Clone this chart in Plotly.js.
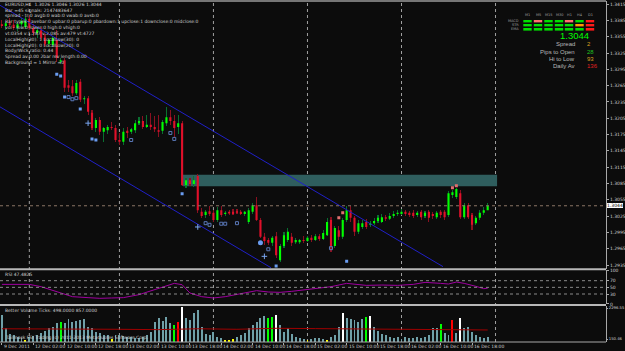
<!DOCTYPE html>
<html><head><meta charset="utf-8">
<script src="https://cdn.plot.ly/plotly-3.0.1.min.js"></script>
<style>html,body{margin:0;padding:0;background:#0c0c0c;overflow:hidden}#chart{width:625px;height:351px}</style>
</head><body><div id="chart"></div>
<script>
// ---------------- DATA ----------------
const opens = [1.3378,1.3375,1.3380,1.3377,1.3371,1.3378,1.3373,1.3388,1.3371,1.3362,1.3367,1.3353,1.3342,1.3340,1.3349,1.3309,1.3312,1.3266,1.3264,1.3251,1.3272,1.3240,1.3242,1.3215,1.3187,1.3202,1.3180,1.3183,1.3189,1.3187,1.3165,1.3162,1.3182,1.3180,1.3183,1.3196,1.3200,1.3189,1.3193,1.3189,1.3183,1.3182,1.3196,1.3207,1.3200,1.3189,1.3196,1.3082,1.3091,1.3084,1.3099,1.3033,1.3027,1.3034,1.3031,1.3018,1.3036,1.3029,1.3033,1.3033,1.3034,1.3033,1.3029,1.3014,1.3033,1.3045,1.3018,1.2987,1.2981,1.2976,1.2988,1.2944,1.2970,1.2981,1.2987,1.2977,1.2977,1.2981,1.2979,1.2985,1.2981,1.2988,1.2983,1.2990,1.3018,1.2970,1.2999,1.2987,1.3018,1.3036,1.3022,1.2996,1.3005,1.3014,1.3009,1.3012,1.3016,1.3014,1.3023,1.3020,1.3025,1.3029,1.3029,1.3033,1.3031,1.3031,1.3027,1.3033,1.3025,1.3033,1.3029,1.3023,1.3033,1.3033,1.3027,1.3064,1.3060,1.3067,1.3023,1.3045,1.3027,1.3012,1.3022,1.3031,1.3036];
const highs = [1.3386,1.3382,1.3389,1.3386,1.3382,1.3389,1.3391,1.3395,1.3378,1.3371,1.3373,1.3360,1.3353,1.3356,1.3367,1.3316,1.3316,1.3275,1.3275,1.3275,1.3277,1.3246,1.3246,1.3220,1.3206,1.3207,1.3189,1.3193,1.3198,1.3193,1.3178,1.3187,1.3189,1.3187,1.3202,1.3207,1.3209,1.3211,1.3215,1.3209,1.3211,1.3202,1.3226,1.3220,1.3211,1.3211,1.3200,1.3095,1.3095,1.3099,1.3103,1.3040,1.3036,1.3044,1.3036,1.3042,1.3044,1.3034,1.3036,1.3038,1.3038,1.3036,1.3034,1.3040,1.3049,1.3060,1.3022,1.2994,1.2985,1.2988,1.2996,1.2974,1.2996,1.3003,1.2994,1.2985,1.2983,1.2988,1.2988,1.2990,1.2992,1.2992,1.2999,1.3022,1.3023,1.3007,1.3007,1.3022,1.3044,1.3044,1.3025,1.3018,1.3018,1.3020,1.3016,1.3022,1.3027,1.3029,1.3027,1.3031,1.3034,1.3036,1.3038,1.3036,1.3034,1.3036,1.3034,1.3036,1.3034,1.3036,1.3033,1.3034,1.3036,1.3036,1.3071,1.3073,1.3077,1.3073,1.3049,1.3049,1.3031,1.3025,1.3036,1.3042,1.3049];
const lows = [1.3371,1.3367,1.3373,1.3367,1.3366,1.3373,1.3369,1.3367,1.3356,1.3353,1.3349,1.3338,1.3336,1.3336,1.3309,1.3305,1.3253,1.3253,1.3246,1.3248,1.3235,1.3231,1.3211,1.3183,1.3180,1.3174,1.3162,1.3176,1.3183,1.3162,1.3156,1.3156,1.3169,1.3176,1.3178,1.3193,1.3185,1.3187,1.3183,1.3180,1.3171,1.3176,1.3191,1.3193,1.3171,1.3176,1.3080,1.3077,1.3080,1.3078,1.3031,1.3022,1.3022,1.3025,1.3014,1.3014,1.3023,1.3025,1.3027,1.3027,1.3029,1.3027,1.3025,1.3011,1.3029,1.3016,1.2985,1.2972,1.2972,1.2970,1.2948,1.2941,1.2966,1.2977,1.2970,1.2974,1.2974,1.2976,1.2977,1.2977,1.2979,1.2979,1.2981,1.2988,1.2959,1.2966,1.2981,1.2983,1.3014,1.3014,1.2988,1.2992,1.3001,1.3001,1.3005,1.3009,1.3012,1.3012,1.3016,1.3018,1.3022,1.3025,1.3027,1.3025,1.3023,1.3022,1.3023,1.3018,1.3022,1.3014,1.3020,1.3020,1.3022,1.3018,1.3023,1.3058,1.3056,1.3020,1.3020,1.3020,1.2999,1.3009,1.3018,1.3027,1.3036];
const closes = [1.3375,1.3380,1.3377,1.3371,1.3378,1.3384,1.3388,1.3371,1.3362,1.3367,1.3353,1.3342,1.3349,1.3353,1.3316,1.3312,1.3261,1.3261,1.3251,1.3270,1.3239,1.3242,1.3217,1.3187,1.3202,1.3180,1.3187,1.3189,1.3187,1.3165,1.3162,1.3180,1.3178,1.3185,1.3196,1.3200,1.3189,1.3193,1.3189,1.3185,1.3180,1.3198,1.3207,1.3200,1.3187,1.3196,1.3082,1.3091,1.3084,1.3091,1.3036,1.3025,1.3033,1.3029,1.3018,1.3036,1.3027,1.3031,1.3030,1.3029,1.3031,1.3029,1.3033,1.3036,1.3045,1.3018,1.2987,1.2979,1.2976,1.2985,1.2953,1.2970,1.2990,1.2996,1.2976,1.2981,1.2981,1.2979,1.2985,1.2981,1.2988,1.2983,1.2994,1.3014,1.2970,1.3003,1.2987,1.3018,1.3036,1.3022,1.2996,1.3012,1.3012,1.3005,1.3012,1.3016,1.3022,1.3023,1.3020,1.3025,1.3029,1.3031,1.3033,1.3029,1.3027,1.3025,1.3031,1.3023,1.3031,1.3022,1.3025,1.3031,1.3027,1.3023,1.3067,1.3069,1.3075,1.3023,1.3045,1.3023,1.3009,1.3022,1.3031,1.3036,1.3044];
const volumes = [1750,950,650,550,450,390,290,450,510,590,710,790,950,1050,1250,1350,1250,1510,1350,1390,1450,1510,1050,950,750,710,590,550,310,550,590,510,450,430,390,390,450,550,750,1350,1550,1390,1650,1250,1150,1350,2190,1550,1450,1850,2050,1050,650,590,750,450,390,290,290,310,450,590,710,950,1150,1350,1550,1710,1550,1650,1750,1150,750,950,650,450,390,350,290,350,390,390,350,290,450,590,1050,1850,1590,1510,1450,1310,1510,1650,1710,1050,790,650,590,470,390,470,350,470,410,390,430,370,450,590,950,990,1190,710,590,1450,710,1550,950,1050,750,590,470,390,430];
const volYellow = [6,28,57,58,59,78,83];
const volGreen = [15,44,68,69,93,112];
const volWhite = [46,70,87,94,117];
const volRed = [45,115];
const volMaIdx = [0,10,20,30,40,50,60,70,80,90,100,110,118,124];
const volMaVal = [930,920,950,900,880,930,900,960,940,920,940,910,880,860];
const rsiIdx = [0,7,10,14,18,22,25,28,31,35,39,42,44,46,48,51,54,57,61,65,68,71,74,77,80,84,88,90,93,97,101,105,108,112,114,116,118,121,123,124];
const rsiVal = [59,59,52,36,22,19,17,18,19,28,44,55,62,58,33,22,18,22,30,40,36,35,38,42,46,52,62,60,56,57,56,59,65,62,60,66,62,53,46,47.5];
const rsiLevels = [70,50,30];
const rsiTicks = [100,70,50,30,0];
const volTickVals = [2149,327];
const volTickText = ['2296.55','150.46'];
const priceTicks = [1.2935,1.2965,1.2995,1.3025,1.3055,1.3085,1.3115,1.3145,1.3175,1.3205,1.3235,1.3265,1.3295,1.3325,1.3355,1.3385,1.3415];
const timeTickIdx = [0,8,16,24,32,40,48,56,64,72,80,88,96,104,112,120];
const timeTickText = ['9 Dec 2011','12 Dec 02:00','12 Dec 10:00','12 Dec 18:00','13 Dec 02:00','13 Dec 10:00','13 Dec 18:00','14 Dec 02:00','14 Dec 10:00','14 Dec 18:00','15 Dec 02:00','15 Dec 10:00','15 Dec 18:00','16 Dec 02:00','16 Dec 10:00','16 Dec 18:00'];
const daySepIdx = [7,30,54,78,102,126];
const currentPrice = 1.3044;
const channelUpperIdx = [-0.5,112.6], channelUpperPx = [1.3413,1.2932];
const channelLowerIdx = [-0.5,68.7], channelLowerPx = [1.3226,1.2930];
const zoneIdx = [46.2,126.4], zonePx = [1.3080,1.3101];
const dotIdx = [14,15,16,20,23,24,46,70,88], dotPx = [1.3286,1.3283,1.3244,1.3222,1.3167,1.3165,1.3066,1.2933,1.2942];
const bigDotIdx = [66], bigDotPx = [1.2976];
const hollowIdx = [17,18,19,33,43,44,52,53,56,57,60,68,84], hollowPx = [1.3244,1.3240,1.3242,1.3165,1.3178,1.3167,1.3012,1.3009,1.3011,1.3011,1.3012,1.2964,1.2966];
const crossIdx = [22,50,67], crossPx = [1.3196,1.3005,1.2951];
const redDotIdx = [86,87,115,116], redDotPx = [1.3022,1.3031,1.3077,1.3081];
const infoLines = ['EURUSD,H1  1.3026 1.3046 1.3026 1.3044','Bar =45 signals: 2147483647','spread - tr:0 avgb:0 wab:0 vwab:0 avsb:0','Bar types - avebar:0 upbar:0 pbarup:0 pbardown:1 upclose:1 downclose:0 midclose:0','vol - low:0 lower:0 high:0 vhigh:0','vt:0354 v:1.287 v:2.085 av:479 vt:4727','LocalHigh(30): 1 LocalLow(30): 0','LocalHigh(20): 0 LocalLow(20): 0','Body/Wick ratio: 0.44','Spread av:0.00 2bar rev length:0.00','Background = 1 Mirror =0'];
const tfLabels = ['M1','M5','M15','M30','H1','H4','D1'];
const sigRows = ['MACD','STR','EMA'];
const sigStates = [['up','dn2','up','up','dn2','up','dn'],['up','up','up','up','up','flat','dn'],['up','up','up','up','up','up','dn']];
const bigPrice = '1.3044';
const statLabels = ['Spread','Pips to Open','Hi to Low','Daily Av'];
const statValues = ['2','28','93','136'];
const statColors = ['#d8a020','#20c020','#d8a020','#e02020'];
const rsiTitle = 'RSI 47.4825';
const volTitle = 'Better Volume Ticks: 498.0000 857.0000';
const footText = 'Tailmask FSI Trading (c) 2011-2013 MetaQuotes Software Corp.';

// ---------------- LAYOUT HELPERS ----------------
const W = 606, T = 1, H = 341;           // plot area in px
const px = v => v / W;
const py = v => (T + H - v) / H;
const idx = opens.map((_, i) => i);
const FONT = 'DejaVu Sans';
const TXT = '#cfcfcf';

const upCol = '#00ff00', dnCol = '#e0102a';
const wickCol = idx.map(i => closes[i] >= opens[i] ? '#0a7030' : '#8a1020');
const volCol = volumes.map((_, i) => volYellow.includes(i) ? '#ffff00' : volGreen.includes(i) ? '#00ff00' : volWhite.includes(i) ? '#ffffff' : volRed.includes(i) ? '#ff0000' : '#6fa0a8');

const traces = [
  {type:'bar', x:idx, base:lows, y:idx.map(i => highs[i]-lows[i]), width:0.28, marker:{color:wickCol, line:{width:0}}, xaxis:'x', yaxis:'y', hoverinfo:'skip'},
  {type:'candlestick', x:idx, open:opens, high:highs, low:lows, close:closes, xaxis:'x', yaxis:'y',
   increasing:{line:{color:upCol, width:0}, fillcolor:upCol}, decreasing:{line:{color:dnCol, width:0}, fillcolor:dnCol}, whiskerwidth:0, hoverinfo:'skip'},
  {type:'scatter', mode:'lines', x:channelUpperIdx, y:channelUpperPx, line:{color:'#2020c8', width:1}, xaxis:'x', yaxis:'y', hoverinfo:'skip'},
  {type:'scatter', mode:'lines', x:channelLowerIdx, y:channelLowerPx, line:{color:'#2020c8', width:1}, xaxis:'x', yaxis:'y', hoverinfo:'skip'},
  {type:'scatter', mode:'markers', x:dotIdx, y:dotPx, marker:{symbol:'square', size:3, color:'#6a9cf0'}, xaxis:'x', yaxis:'y', hoverinfo:'skip'},
  {type:'scatter', mode:'markers', x:bigDotIdx, y:bigDotPx, marker:{symbol:'circle', size:5, color:'#6a9cf0'}, xaxis:'x', yaxis:'y', hoverinfo:'skip'},
  {type:'scatter', mode:'markers', x:hollowIdx, y:hollowPx, marker:{symbol:'square-open', size:3, color:'#5a78b8', line:{width:1}}, xaxis:'x', yaxis:'y', hoverinfo:'skip'},
  {type:'scatter', mode:'markers', x:crossIdx, y:crossPx, marker:{symbol:'cross-thin-open', size:4, color:'#7aa6f0', line:{width:1, color:'#7aa6f0'}}, xaxis:'x', yaxis:'y', hoverinfo:'skip'},
  {type:'scatter', mode:'markers', x:redDotIdx, y:redDotPx, marker:{symbol:'square', size:3, color:'#e07070'}, xaxis:'x', yaxis:'y', hoverinfo:'skip'},
  {type:'scatter', mode:'lines', x:rsiIdx, y:rsiVal, line:{color:'#a000a0', width:1}, xaxis:'x', yaxis:'y2', hoverinfo:'skip'},
  {type:'bar', x:idx, y:volumes, width:0.5, marker:{color:volCol, line:{width:0}}, xaxis:'x', yaxis:'y3', hoverinfo:'skip'},
  {type:'scatter', mode:'lines', x:volMaIdx, y:volMaVal, line:{color:'#a00000', width:1}, xaxis:'x', yaxis:'y3', hoverinfo:'skip'}
];

const shapes = [];
shapes.push({type:'rect', xref:'x', yref:'y', x0:zoneIdx[0], x1:zoneIdx[1], y0:zonePx[0], y1:zonePx[1], fillcolor:'#2f5e5e', line:{width:0}, layer:'below'});
daySepIdx.forEach(d => shapes.push({type:'line', xref:'x', yref:'paper', x0:d, x1:d, y0:0, y1:1, line:{color:'#a0a0a0', width:1, dash:'dot'}, layer:'below'}));
shapes.push({type:'line', xref:'paper', yref:'y', x0:0, x1:1, y0:currentPrice, y1:currentPrice, line:{color:'#8c7666', width:1, dash:'dot'}});
rsiLevels.forEach(l => shapes.push({type:'line', xref:'paper', yref:'y2', x0:0, x1:1, y0:l, y1:l, line:{color:'#8a8a8a', width:1, dash:'dot'}}));
[[1,1.5,'#9a9a9a'],[269.3,2,'#b8b8b8'],[305,2,'#b8b8b8'],[342,1,'#a8a8a8']].forEach(b => shapes.push({type:'line', xref:'paper', yref:'paper', x0:0, x1:1, y0:py(b[0]), y1:py(b[0]), line:{color:b[2], width:b[1]}}));
const colX = [527.5,538,548.5,559,569,579.5,590];
const rowY = [[20,22.4],[24,26.4],[28,30.6]];
const sigColor = {up:'#00e000', dn:'#ff1a1a', dn2:'#ff7070', flat:'#ff9a00'};
sigStates.forEach((row, r) => row.forEach((s, c) => shapes.push({type:'rect', xref:'paper', yref:'paper', x0:px(colX[c]-4.2), x1:px(colX[c]+4.2), y0:py(rowY[r][1]), y1:py(rowY[r][0]), fillcolor:sigColor[s], line:{width:0}})));

const ann = [];
const txt = (x, y, t, o) => ann.push(Object.assign({xref:'paper', yref:'paper', x:px(x), y:py(y), text:t, showarrow:false, xanchor:'left', yanchor:'middle', font:{family:FONT, size:4.5, color:TXT}}, o || {}));
const infoY = [5,10.5,16,21.7,27.3,33.2,39,45,51,56.7,62.5];
infoLines.forEach((t, i) => txt(3, infoY[i], t));
tfLabels.forEach((t, i) => txt(colX[i], 15, t, {xanchor:'center', font:{family:FONT, size:3.5, color:'#a0a0a0'}}));
const rowLabY = [21.2,25.2,29.3];
sigRows.forEach((t, i) => txt(521, rowLabY[i], t, {xanchor:'right', font:{family:FONT, size:3.5, color:'#a0a0a0'}}));
txt(591, 35.5, bigPrice, {xanchor:'right', font:{family:'Liberation Sans', size:9.5, color:'#00ff00'}});
const statY = [44.3,51.7,59,66];
statLabels.forEach((t, i) => { txt(577, statY[i], t, {xanchor:'right', font:{family:'Liberation Sans', size:6, color:'#b8b8b8'}}); txt(585, statY[i], statValues[i], {font:{family:'Liberation Sans', size:6, color:statColors[i]}}); });
txt(3, 274.5, rsiTitle);
txt(3, 310.5, volTitle);
txt(3, 337.5, footText);
timeTickIdx.forEach((t, i) => ann.push({xref:'x', yref:'paper', x:t, y:py(346.5), text:timeTickText[i], showarrow:false, xanchor:'left', yanchor:'middle', font:{family:FONT, size:4.5, color:'#d0d0d0'}}));
ann.push({xref:'paper', yref:'y', x:px(607), y:currentPrice, text:currentPrice.toFixed(4), showarrow:false, xanchor:'left', yanchor:'middle', bgcolor:'#ffffff', borderpad:0, borderwidth:0, font:{family:FONT, size:4.5, color:'#000000'}});

const axFont = {family:FONT, size:4.5, color:'#d0d0d0'};
const yCommon = {side:'right', anchor:'x', showgrid:false, zeroline:false, showline:true, linecolor:'#a8a8a8', linewidth:1, ticks:'outside', ticklen:2, tickcolor:'#a8a8a8', tickfont:axFont, fixedrange:true};
const layout = {
  width:625, height:351, margin:{l:0, r:19, t:T, b:9},
  paper_bgcolor:'#0c0c0c', plot_bgcolor:'#0c0c0c',
  showlegend:false, hovermode:false, boxgap:0.22, bargap:0,
  xaxis:{domain:[0,1], range:[-0.485,154.2], anchor:'y3', tickvals:timeTickIdx, showticklabels:false,
         showgrid:false, zeroline:false, showline:false, ticks:'outside', ticklen:2, tickcolor:'#a8a8a8', rangeslider:{visible:false}, fixedrange:true},
  yaxis:Object.assign({}, yCommon, {domain:[py(268.5),1], range:[1.29286,1.34208], tickvals:priceTicks, tickformat:'.4f'}),
  yaxis2:Object.assign({}, yCommon, {domain:[py(304.3),py(270)], range:[-1,102.2], tickvals:rsiTicks}),
  yaxis3:Object.assign({}, yCommon, {domain:[0,py(305.6)], range:[150.46,2296.55], tickvals:volTickVals, ticktext:volTickText, ticklen:1, tickfont:{family:FONT, size:3.8, color:'#d0d0d0'}}),
  shapes:shapes, annotations:ann
};
Plotly.newPlot('chart', traces, layout, {staticPlot:true, displayModeBar:false});
</script></body></html>
